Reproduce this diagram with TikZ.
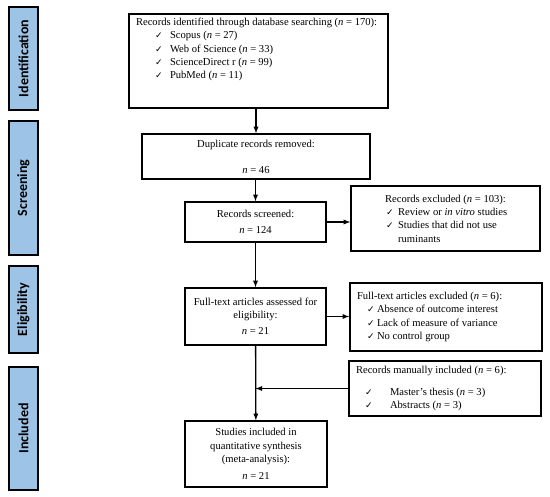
\documentclass[tikz,border=0pt]{standalone}
\usepackage{fontspec}
\setmainfont{Liberation Serif}
\newfontfamily\barfont{Carlito}
\newfontfamily\symfont{DejaVu Sans}
\usetikzlibrary{positioning}
\definecolor{barblue}{HTML}{9DC3E6}
\newcommand{\ck}{{\symfont\fontsize{9}{10}\selectfont ✓}}
\newcommand{\nn}{\textit{n}}

\begin{document}
\begin{tikzpicture}[
			x=1pt, y=-1pt,
			% Define styles for stages and boxes
			stage/.style={draw, line width=1.4pt, fill=barblue, rotate=90, minimum height=29pt, inner sep=0pt, font=\barfont\bfseries\fontsize{14}{16}\selectfont},
			box/.style={draw, line width=1.4pt, align=center, inner sep=0pt, font=\fontsize{10.6}{13.3}\selectfont},
			arrow/.style={draw, line width=1.3pt, -latex}
		]
		\useasboundingbox (0,0) rectangle (550,497);

		% Stages on the left
		\node[stage, minimum width=103pt] (identification) at (23.5,58.5) {Identification};
		\node[stage, minimum width=134pt] (screening) at (23.5,188) {Screening};
		\node[stage, minimum width=87pt] (eligibility) at (23.5,309.5) {Eligibility};
		\node[stage, minimum width=123pt] (included) at (23.5,428.5) {Included};

		% Main column
		\node[box, minimum width=259pt, minimum height=94pt] (identified) at (258.5,61)
		{\parbox[c][86pt][t]{245pt}{Records identified through database searching (\nn{} = 170):\\
				\hspace*{19pt}\makebox[15pt][l]{\ck}Scopus (\nn{} = 27)\\
				\hspace*{19pt}\makebox[15pt][l]{\ck}Web of Science (\nn{} = 33)\\
				\hspace*{19pt}\makebox[15pt][l]{\ck}ScienceDirect r (\nn{} = 99)\\
				\hspace*{19pt}\makebox[15pt][l]{\ck}PubMed (\nn{} = 11)}};
		\node[box, minimum width=228pt, minimum height=45pt] (duplicates) at (256,156.5)
		{Duplicate records removed:\\[12.7pt] \nn{} = 46};
		\node[box, minimum width=141pt, minimum height=40pt] (screened) at (255.5,222)
		{Records screened:\\[2.7pt] \nn{} = 124};
		\node[box, minimum width=141pt, minimum height=57pt] (assessed) at (255.5,316.5)
		{Full-text articles assessed for\\ eligibility:\\[2.7pt] \nn{} = 21};
		\node[box, minimum width=142pt, minimum height=66pt] (synthesis) at (256,454)
		{Studies included in\\ quantitative synthesis\\ (meta-analysis):\\[3.7pt] \nn{} = 21};

		% Side boxes
		\node[box, minimum width=189pt, minimum height=65pt] (excluded) at (445.5,218.5)
		{\parbox{177pt}{\centering Records excluded (\nn{} = 103):\\
				\raggedright
				\hspace*{29pt}\makebox[12pt][l]{\ck}Review or \textit{in vitro} studies\\
				\hspace*{29pt}\makebox[12pt][l]{\ck}Studies that did not use\\
				\hspace*{41pt}ruminants}};
		\node[box, minimum width=192pt, minimum height=68pt] (fulltextout) at (446,317)
		{\parbox{178pt}{Full-text articles excluded (\nn{} = 6):\\
				\hspace*{10pt}\makebox[10pt][l]{\ck}Absence of outcome interest\\
				\hspace*{10pt}\makebox[10pt][l]{\ck}Lack of measure of variance\\
				\hspace*{10pt}\makebox[10pt][l]{\ck}No control group}};
		\node[box, minimum width=192pt, minimum height=55pt] (manual) at (445,388.5)
		{\parbox{178pt}{Records manually included (\nn{} = 6):\\[8pt]
				\hspace*{9pt}\makebox[25pt][l]{\ck}Master's thesis (\nn{} = 3)\\
				\hspace*{9pt}\makebox[25pt][l]{\ck}Abstracts (\nn{} = 3)}};

		% Connectors
		\draw[arrow] (duplicates.north |- identified.south) -- (duplicates.north);
		\draw[arrow] (duplicates.south -| screened.north) -- (screened.north);
		\draw[arrow] (screened) -- (assessed);
		\draw[arrow] (assessed) -- (synthesis);
		\draw[arrow] (screened.east) -- (screened.east -| excluded.west);
		\draw[arrow] (assessed.east) -- (assessed.east -| fulltextout.west);
		\draw[arrow] (manual.west) -- (manual.west -| assessed.south);
	\end{tikzpicture}
\end{document}
